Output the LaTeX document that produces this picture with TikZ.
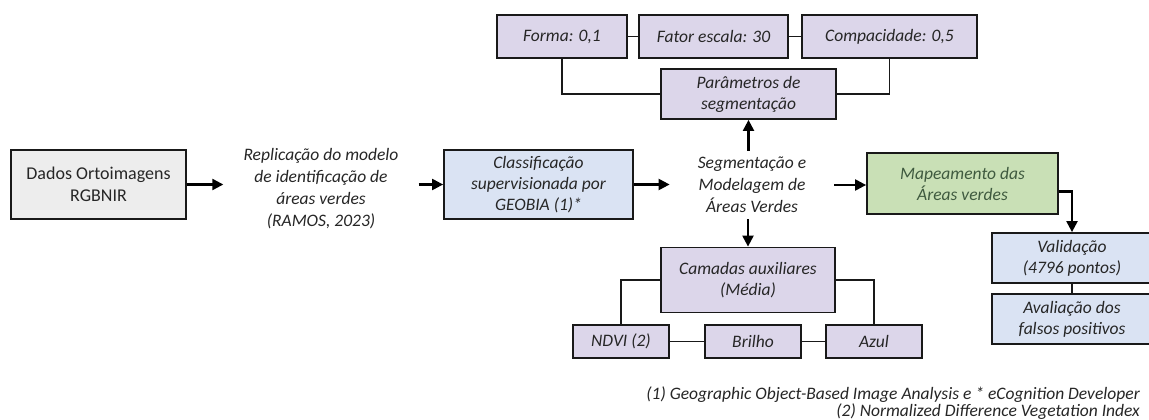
\documentclass[tikz,border=0pt]{standalone}
\usepackage{fontspec}
\setmainfont{Carlito}
\usetikzlibrary{arrows.meta}
\definecolor{txt}{HTML}{262626}
\definecolor{fgray}{HTML}{EDEDED}
\definecolor{fblue}{HTML}{DAE3F3}
\definecolor{fpurp}{HTML}{DCD6EA}
\definecolor{fgreen}{HTML}{C9E0B6}
\definecolor{tgreen}{HTML}{3F5A3F}
\tikzset{
  box/.style={draw=black!90, line width=1.8pt, align=center, inner sep=0pt, text=txt,
    font=\fontsize{17.5}{21}\selectfont\itshape},
  freetext/.style={align=center, text=txt, font=\fontsize{17.5}{22}\selectfont\itshape},
  arr/.style={line width=2.2pt, -{Triangle[length=11pt,width=11pt]}},
  link/.style={line width=1.8pt, black!90},
}
\begin{document}
\begin{tikzpicture}[x=1pt,y=-1pt]
\useasboundingbox[fill=white] (0,0) rectangle (1149,420);
% nodes
\node[box, fill=fgray, minimum width=175pt, minimum height=69pt, font=\fontsize{18}{22}\selectfont] (dados) at (98.5,184.5) {Dados Ortoimagens\\RGBNIR};
\node[freetext, inner xsep=20pt, inner ysep=0pt] (repl) at (321,188.5) {Replicação do modelo\\de identificação de\\áreas verdes\\(RAMOS, 2023)};
\node[box, fill=fblue, minimum width=189pt, minimum height=69pt] (classif) at (538.5,184.5) {Classificação\\supervisionada por\\GEOBIA (1)*};
\node[freetext, inner xsep=28pt, inner ysep=6pt] (seg) at (752,185) {Segmentação e\\Modelagem de\\Áreas Verdes};
\node[box, fill=fpurp, minimum width=175pt, minimum height=50pt] (param) at (748.5,94) {Parâmetros de\\segmentação};
\node[box, fill=fpurp, minimum width=130pt, minimum height=43pt] (forma) at (562,36.5) {Forma: 0,1};
\node[box, fill=fpurp, minimum width=149pt, minimum height=43pt] (fator) at (713.5,36.5) {Fator escala: 30};
\node[box, fill=fpurp, minimum width=175pt, minimum height=43pt] (compac) at (889.5,36.5) {Compacidade: 0,5};
\node[box, fill=fpurp, minimum width=174pt, minimum height=65pt] (camadas) at (748,280) {Camadas auxiliares\\(Média)};
\node[box, fill=fpurp, minimum width=96pt, minimum height=33pt] (ndvi) at (621,341.5) {NDVI (2)};
\node[box, fill=fpurp, minimum width=96pt, minimum height=33pt] (brilho) at (753,341.5) {Brilho};
\node[box, fill=fpurp, minimum width=96pt, minimum height=33pt] (azul) at (874,341.5) {Azul};
\node[box, fill=fgreen, text=tgreen, minimum width=191pt, minimum height=61pt] (mapa) at (962.5,183.5) {Mapeamento das\\Áreas verdes};
\node[box, fill=fblue, minimum width=160pt, minimum height=50pt] (valid) at (1072,258) {Validação\\(4796 pontos)};
\node[box, fill=fblue, minimum width=160pt, minimum height=50pt] (aval) at (1072,319) {Avaliação dos\\falsos positivos};
\node[anchor=east, align=right, text=txt, inner sep=0pt, font=\fontsize{17.5}{17}\selectfont\itshape] (notes) at (1140,403)
  {(1) Geographic Object-Based Image Analysis e * eCognition Developer\\(2) Normalized Difference Vegetation Index};
% arrows
\draw[arr] (dados.east) -- (dados.east -| repl.west);
\draw[arr] (repl.east |- classif.west) -- (classif.west);
\draw[arr] (classif.east) -- (classif.east -| seg.west);
\draw[arr] (seg.north -| param.south) -- (param.south);
\draw[arr] (seg.south -| camadas.north) -- (camadas.north);
\draw[arr] (seg.east) -- (seg.east -| mapa.west);
\draw[arr] ([yshift=-8pt]mapa.east) -| (valid.north);
% links
\draw[link] (forma.east) -- (fator.west);
\draw[link] (fator.east) -- (compac.west);
\draw[link] (forma.south) |- (param.west);
\draw[link] (compac.south) |- (param.east);
\draw[link] (camadas.west) -| (ndvi.north);
\draw[link] (camadas.east) -| (azul.north);
\draw[link] (ndvi.east) -- (brilho.west);
\draw[link] (brilho.east) -- (azul.west);
\draw[link] (valid.south) -- (aval.north);
\end{tikzpicture}
\end{document}
